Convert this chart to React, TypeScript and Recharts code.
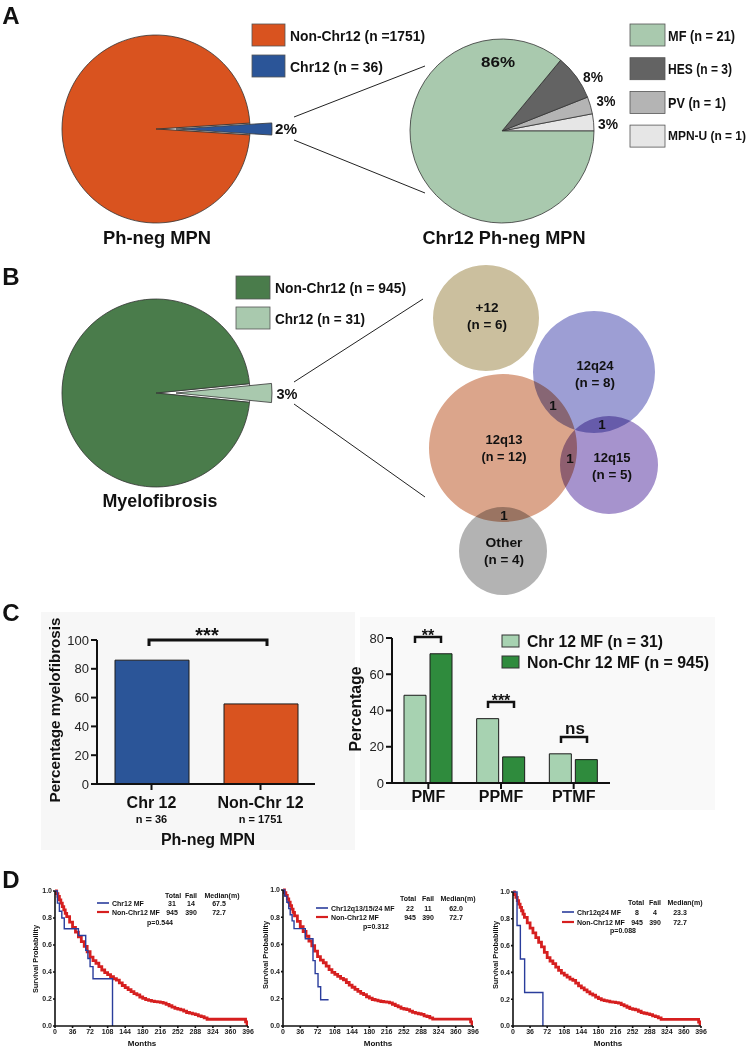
import React from 'react';
import { PieChart, Pie, Cell, BarChart, Bar, XAxis, YAxis, LineChart, Line } from 'recharts';

// ---------- Panel A: Ph-neg MPN ----------
const mpnGroups = ['Chr12', 'Non-Chr12'];
const mpnCounts = [36, 1751];
const subtypeNames = ['MPN-U', 'PV', 'HES', 'MF'];
const subtypeCounts = [1, 1, 3, 21];
const subtypePercents = [3, 3, 8, 86];

// ---------- Panel B: myelofibrosis ----------
const mfGroups = ['Chr12', 'Non-Chr12'];
const mfCounts = [31, 945];
const vennNames = ['+12', '12q24', '12q13', '12q15', 'Other'];
const vennCounts = [6, 8, 12, 5, 4];
const vennOverlapCounts = [1, 1, 1, 1];

// ---------- Panel C ----------
const phCategories = ['Chr 12', 'Non-Chr 12'];
const phN = [36, 1751];
const pctMyelofibrosis = [86, 55.6];
const mfTypes = ['PMF', 'PPMF', 'PTMF'];
const chr12MfPct = [48.4, 35.5, 16.1];
const nonChr12MfPct = [71.3, 14.4, 12.9];
const mfSignif = ['**', '***', 'ns'];

// ---------- Panel D ----------
const monthTicks = [0, 36, 72, 108, 144, 180, 216, 252, 288, 324, 360, 396];
const survTicks = [0, 0.2, 0.4, 0.6, 0.8, 1.0];
const nonChr12Months = [0, 3, 6, 9, 12, 15, 18, 21, 24, 30, 36, 42, 48, 54, 60, 66, 72, 78, 84, 90, 96, 102, 108, 114, 120, 126, 132, 138, 144, 150, 156, 162, 168, 174, 180, 186, 192, 198, 204, 210, 216, 222, 228, 234, 240, 246, 252, 258, 264, 270, 276, 282, 288, 294, 300, 306, 312, 388, 391, 394, 396];
const nonChr12Surv = [1, 0.98, 0.96, 0.935, 0.91, 0.885, 0.86, 0.835, 0.81, 0.77, 0.73, 0.695, 0.66, 0.625, 0.59, 0.55, 0.51, 0.485, 0.465, 0.44, 0.415, 0.395, 0.38, 0.365, 0.35, 0.34, 0.32, 0.3, 0.285, 0.27, 0.255, 0.24, 0.23, 0.215, 0.205, 0.195, 0.19, 0.185, 0.18, 0.178, 0.175, 0.17, 0.16, 0.15, 0.14, 0.13, 0.125, 0.12, 0.11, 0.1, 0.095, 0.09, 0.085, 0.075, 0.07, 0.06, 0.05, 0.05, 0.03, 0.015, 0];
const chr12Months = [0, 5, 9, 14, 19, 48, 63, 67.5, 72, 78, 118];
const chr12Surv = [1, 0.91, 0.85, 0.8, 0.72, 0.67, 0.56, 0.5, 0.44, 0.35, 0];
const q131524Months = [0, 3.5, 8, 12, 15, 19, 23, 46.5, 62.5, 67, 73, 78.5, 95];
const q131524Surv = [1, 0.955, 0.91, 0.864, 0.818, 0.773, 0.716, 0.642, 0.481, 0.385, 0.289, 0.193, 0.193];
const q24Months = [0, 8.5, 15.5, 24.5, 63];
const q24Surv = [1, 0.75, 0.5, 0.25, 0];
const kmGroups = ['Chr12 MF', 'Chr12q13/15/24 MF', 'Chr12q24 MF'];
const kmTotal = [31, 22, 8];
const kmFail = [14, 11, 4];
const kmMedian = ['67.5', '62.0', '23.3'];
const kmP = ['0.544', '0.312', '0.088'];
const refGroup = 'Non-Chr12 MF';
const refTotal = 945;
const refFail = 390;
const refMedian = '72.7';

const SANS = "'Liberation Sans', Arial, Helvetica, sans-serif";
const NARROW = "'Liberation Sans Narrow', 'Arial Narrow', 'Liberation Sans', Arial, sans-serif";

const ORANGE = '#d9531f';
const BLUE = '#2b5598';
const DARK_GREEN = '#4a7c4b';
const LIGHT_GREEN = '#a9c9ae';
const BAR_LIGHT = '#a7d2b1';
const BAR_DARK = '#2f8b3d';

const toRows = (t: number[], s: number[]) => t.map((m, i) => ({ t: m, s: s[i] }));
const mpnData = mpnGroups.map((g, i) => ({ name: g, value: mpnCounts[i] }));
const mfData = mfGroups.map((g, i) => ({ name: g, value: mfCounts[i] }));
const subtypeData = subtypeNames.map((g, i) => ({ name: g, value: subtypePercents[i] }));
const phData = phCategories.map((c, i) => ({ name: c, value: pctMyelofibrosis[i] }));
const mfTypeData = mfTypes.map((c, i) => ({ name: c, chr12: chr12MfPct[i], nonChr12: nonChr12MfPct[i] }));

// half-angle of the small slice so it sits centred on 3 o'clock
const mpnHalf = (180 * mpnCounts[0]) / (mpnCounts[0] + mpnCounts[1]);
const mfHalf = (180 * mfCounts[0]) / (mfCounts[0] + mfCounts[1]);

const subtypeColors = ['#e6e6e6', '#b4b4b4', '#636363', LIGHT_GREEN];

// layout of the overlapping circles (position only)
const vennLayout = [
  { cx: 486, cy: 318, r: 53, color: '#cbbf9e', ly: 315 },
  { cx: 594, cy: 372, r: 61, color: '#9d9ed4', ly: 373 },
  { cx: 503, cy: 448, r: 74, color: '#dba58b', ly: 447 },
  { cx: 609, cy: 465, r: 49, color: '#a693cd', ly: 465, lx: 612 },
  { cx: 503, cy: 551, r: 44, color: '#b3b3b3', ly: 550 },
];
const overlapPos = [[553, 405], [602, 424], [570, 458], [504, 515]];

interface TxtProps {
  x: number;
  y: number;
  children: React.ReactNode;
  size?: number;
  w?: number;
  anchor?: 'start' | 'middle' | 'end';
  font?: string;
  weight?: string | number;
  rotate?: number;
  base?: boolean;
}

function Txt({ x, y, children, size = 14, w, anchor = 'middle', font = NARROW, weight = 'bold', rotate, base }: TxtProps) {
  return (
    <text
      x={x}
      y={y}
      fontSize={size}
      fontFamily={font}
      fontWeight={weight}
      textAnchor={anchor}
      dominantBaseline={base ? undefined : 'central'}
      fill="#111"
      textLength={w}
      lengthAdjust={w ? 'spacingAndGlyphs' : undefined}
      transform={rotate ? `rotate(${rotate} ${x} ${y})` : undefined}
    >
      {children}
    </text>
  );
}

function Bracket({ x1, x2, y, h = 6, sw = 2.5 }: { x1: number; x2: number; y: number; h?: number; sw?: number }) {
  return <path d={`M${x1},${y + h} V${y} H${x2} V${y + h}`} fill="none" stroke="#111" strokeWidth={sw} />;
}

const PhTick = (props: any) => {
  const { x, y, payload, index } = props;
  return (
    <g transform={`translate(${x},${y})`}>
      <text y={10} textAnchor="middle" dominantBaseline="central" fontSize={16} fontWeight="bold" fontFamily={SANS} fill="#111">
        {payload.value}
      </text>
      <text y={27} textAnchor="middle" dominantBaseline="central" fontSize={11} fontWeight="bold" fontFamily={NARROW} fill="#111">
        n = {phN[index]}
      </text>
    </g>
  );
};

const barAxis = { stroke: '#111', strokeWidth: 2 };
const barTick = { fontSize: 13, fill: '#222', fontFamily: SANS };
const kmAxis = { stroke: '#111', strokeWidth: 1.6 };
const kmTick = { fontSize: 7, fontWeight: 'bold', fill: '#222', fontFamily: SANS };

interface KmCfg {
  left: number;
  axisW: number;
  width: number;
  top: number;
  plotH: number;
  months: number[];
  surv: number[];
  lineX: number;
  headY: number;
  headCols: number[];
  valCols: number[];
  rowY: number[];
  pX: number;
  pY: number;
  spX: number;
  spY: number;
  monthsX: number;
}

const kmPanels: KmCfg[] = [
  { left: 0, axisW: 55, width: 256, top: 11, plotH: 135, months: chr12Months, surv: chr12Surv, lineX: 97, headY: 895, headCols: [173, 191, 222], valCols: [172, 191, 219], rowY: [903, 912], pX: 160, pY: 922, spX: 35, spY: 959, monthsX: 142 },
  { left: 250, axisW: 33, width: 231, top: 10, plotH: 136, months: q131524Months, surv: q131524Surv, lineX: 316, headY: 898, headCols: [408, 428, 458], valCols: [410, 428, 456], rowY: [908, 917], pX: 376, pY: 926, spX: 265, spY: 955, monthsX: 378 },
  { left: 480, axisW: 33, width: 229, top: 12, plotH: 134, months: q24Months, surv: q24Surv, lineX: 562, headY: 902, headCols: [636, 655, 685], valCols: [637, 655, 680], rowY: [912, 922], pX: 623, pY: 930, spX: 495, spY: 955, monthsX: 608 },
];

function SurvivalPlot({ cfg }: { cfg: KmCfg }) {
  return (
    <div style={{ position: 'absolute', left: cfg.left, top: 880 }}>
      <LineChart width={cfg.width} height={cfg.top + cfg.plotH + 23} margin={{ top: cfg.top, right: 8, bottom: 0, left: 0 }}>
        <XAxis type="number" dataKey="t" domain={[0, 396]} ticks={monthTicks} interval={0} height={23} tickSize={2} tickMargin={1} axisLine={kmAxis} tickLine={kmAxis} tick={kmTick} allowDataOverflow />
        <YAxis type="number" domain={[0, 1]} ticks={survTicks} width={cfg.axisW} tickSize={2} tickMargin={1} tickFormatter={(v: number) => v.toFixed(1)} axisLine={kmAxis} tickLine={kmAxis} tick={kmTick} />
        <Line data={toRows(nonChr12Months, nonChr12Surv)} dataKey="s" type="stepAfter" stroke="#d61f1f" strokeWidth={2.8} dot={false} isAnimationActive={false} />
        <Line data={toRows(cfg.months, cfg.surv)} dataKey="s" type="stepAfter" stroke="#2a3d9c" strokeWidth={1.4} dot={false} isAnimationActive={false} />
      </LineChart>
    </div>
  );
}

export default function App() {
  return (
    <div style={{ position: 'absolute', left: 0, top: 0, width: 753, height: 1049, background: '#fff', overflow: 'hidden' }}>
      <style>{`.venn { mix-blend-mode: multiply; }`}</style>

      {/* faint panel C backgrounds */}
      <svg width={753} height={1049} style={{ position: 'absolute', left: 0, top: 0 }}>
        <rect x={41} y={612} width={314} height={238} fill="#f7f7f7" />
        <rect x={360} y={617} width={355} height={193} fill="#f9f9f9" />
      </svg>

      {/* Panels A and B: pies and circles */}
      <div style={{ position: 'absolute', left: 0, top: 0 }}>
        <PieChart width={753} height={600} margin={{ top: 0, right: 0, bottom: 0, left: 0 }}>
          <Pie data={mpnData} dataKey="value" cx={156} cy={129} outerRadius={94} startAngle={-mpnHalf} endAngle={360 - mpnHalf} isAnimationActive={false}>
            <Cell fill="#ffffff" stroke="#333" strokeWidth={0.8} />
            <Cell fill={ORANGE} stroke="#333" strokeWidth={0.8} />
          </Pie>
          <Pie data={mpnData} dataKey="value" cx={176} cy={129} outerRadius={96} startAngle={-mpnHalf} endAngle={360 - mpnHalf} isAnimationActive={false}>
            <Cell fill={BLUE} stroke="#333" strokeWidth={0.8} />
            <Cell fill="none" stroke="none" />
          </Pie>
          <Pie data={subtypeData} dataKey="value" cx={502} cy={131} outerRadius={92} startAngle={0} endAngle={360} isAnimationActive={false}>
            {subtypeData.map((d, i) => (
              <Cell key={d.name} fill={subtypeColors[i]} stroke="#333" strokeWidth={0.8} />
            ))}
          </Pie>

          <Pie data={mfData} dataKey="value" cx={156} cy={393} outerRadius={94} startAngle={-mfHalf} endAngle={360 - mfHalf} isAnimationActive={false}>
            <Cell fill="#ffffff" stroke="#333" strokeWidth={0.8} />
            <Cell fill={DARK_GREEN} stroke="#333" strokeWidth={0.8} />
          </Pie>
          <Pie data={mfData} dataKey="value" cx={176} cy={393} outerRadius={96} startAngle={-mfHalf} endAngle={360 - mfHalf} isAnimationActive={false}>
            <Cell fill={LIGHT_GREEN} stroke="#333" strokeWidth={0.8} />
            <Cell fill="none" stroke="none" />
          </Pie>

          {vennNames.map((name, i) => (
            <Pie
              key={name}
              className="venn"
              data={[{ name, value: vennCounts[i] }]}
              dataKey="value"
              cx={vennLayout[i].cx}
              cy={vennLayout[i].cy}
              outerRadius={vennLayout[i].r}
              isAnimationActive={false}
            >
              <Cell fill={vennLayout[i].color} stroke="none" />
            </Pie>
          ))}
        </PieChart>
      </div>

      {/* Panel C left */}
      <div style={{ position: 'absolute', left: 0, top: 600 }}>
        <BarChart width={330} height={244} data={phData} margin={{ top: 40, right: 15, bottom: 0, left: 0 }} barSize={74}>
          <XAxis dataKey="name" height={60} interval={0} tickSize={6} axisLine={barAxis} tickLine={barAxis} tick={<PhTick />} />
          <YAxis width={97} domain={[0, 100]} ticks={[0, 20, 40, 60, 80, 100]} tickSize={6} axisLine={barAxis} tickLine={barAxis} tick={barTick} />
          <Bar dataKey="value" stroke="#1a1a1a" strokeWidth={1} isAnimationActive={false}>
            <Cell fill={BLUE} />
            <Cell fill={ORANGE} />
          </Bar>
        </BarChart>
      </div>

      {/* Panel C right */}
      <div style={{ position: 'absolute', left: 340, top: 600 }}>
        <BarChart width={280} height={223} data={mfTypeData} margin={{ top: 38, right: 10, bottom: 0, left: 0 }} barSize={22} barGap={4}>
          <XAxis dataKey="name" height={40} interval={0} tickSize={6} axisLine={barAxis} tickLine={barAxis} tick={{ fontSize: 16, fontWeight: 'bold', fill: '#111', fontFamily: SANS }} />
          <YAxis width={52} domain={[0, 80]} ticks={[0, 20, 40, 60, 80]} tickSize={6} axisLine={barAxis} tickLine={barAxis} tick={barTick} />
          <Bar dataKey="chr12" fill={BAR_LIGHT} stroke="#1a1a1a" strokeWidth={1} isAnimationActive={false} />
          <Bar dataKey="nonChr12" fill={BAR_DARK} stroke="#1a1a1a" strokeWidth={1} isAnimationActive={false} />
        </BarChart>
      </div>

      {/* Panel D */}
      {kmPanels.map((cfg, i) => (
        <SurvivalPlot key={i} cfg={cfg} />
      ))}

      {/* Text, legends and annotations */}
      <svg width={753} height={1049} style={{ position: 'absolute', left: 0, top: 0, pointerEvents: 'none' }}>
        <Txt x={11} y={15} size={24} font={SANS}>A</Txt>
        <Txt x={11} y={276} size={24} font={SANS}>B</Txt>
        <Txt x={11} y={612} size={24} font={SANS}>C</Txt>
        <Txt x={11} y={879} size={24} font={SANS}>D</Txt>

        {/* A legends */}
        <rect x={252} y={24} width={33} height={22} fill={ORANGE} stroke="#555" strokeWidth={0.8} />
        <rect x={252} y={55} width={33} height={22} fill={BLUE} stroke="#555" strokeWidth={0.8} />
        <Txt x={290} y={35} size={15} w={135} anchor="start">{`${mpnGroups[1]} (n =${mpnCounts[1]})`}</Txt>
        <Txt x={290} y={66} size={15} w={93} anchor="start">{`${mpnGroups[0]} (n = ${mpnCounts[0]})`}</Txt>
        {[3, 2, 1, 0].map((k, j) => (
          <g key={k}>
            <rect x={630} y={24 + j * 33.7} width={35} height={22} fill={subtypeColors[k]} stroke="#555" strokeWidth={0.8} />
            <Txt x={668} y={35 + j * 33.7} size={j === 3 ? 12 : 15} w={[67, 64, 58, 78][j]} anchor="start">{`${subtypeNames[k]} (n = ${subtypeCounts[k]})`}</Txt>
          </g>
        ))}
        <Txt x={498} y={61} size={15} w={34}>{`${subtypePercents[3]}%`}</Txt>
        <Txt x={593} y={76} size={15} w={20}>{`${subtypePercents[2]}%`}</Txt>
        <Txt x={606} y={100} size={15} w={19}>{`${subtypePercents[1]}%`}</Txt>
        <Txt x={608} y={123} size={15} w={20}>{`${subtypePercents[0]}%`}</Txt>
        <Txt x={286} y={128} size={15} w={22}>{`${Math.round((100 * mpnCounts[0]) / (mpnCounts[0] + mpnCounts[1]))}%`}</Txt>
        <line x1={294} y1={117} x2={425} y2={66} stroke="#222" strokeWidth={1} />
        <line x1={294} y1={140} x2={425} y2={193} stroke="#222" strokeWidth={1} />
        <Txt x={157} y={237} size={19} w={108}>Ph-neg MPN</Txt>
        <Txt x={504} y={237} size={19} w={163}>Chr12 Ph-neg MPN</Txt>

        {/* B legends */}
        <rect x={236} y={276} width={34} height={23} fill={DARK_GREEN} stroke="#555" strokeWidth={0.8} />
        <rect x={236} y={307} width={34} height={22} fill={LIGHT_GREEN} stroke="#555" strokeWidth={0.8} />
        <Txt x={275} y={287} size={15} w={131} anchor="start">{`${mfGroups[1]} (n = ${mfCounts[1]})`}</Txt>
        <Txt x={275} y={318} size={15} w={90} anchor="start">{`${mfGroups[0]} (n = ${mfCounts[0]})`}</Txt>
        <Txt x={287} y={393} size={15} w={21}>{`${Math.round((100 * mfCounts[0]) / (mfCounts[0] + mfCounts[1]))}%`}</Txt>
        <line x1={294} y1={382} x2={423} y2={299} stroke="#222" strokeWidth={1} />
        <line x1={294} y1={404} x2={425} y2={497} stroke="#222" strokeWidth={1} />
        <Txt x={160} y={500} size={19} w={115}>Myelofibrosis</Txt>
        {vennNames.map((name, i) => {
          const L = vennLayout[i];
          const lx = L.lx ?? L.cx + 1;
          return (
            <g key={name}>
              <Txt x={lx} y={L.ly - 8} size={13.5} w={name === '+12' ? 23 : 37}>{name}</Txt>
              <Txt x={lx} y={L.ly + 9} size={13.5} w={vennCounts[i] >= 10 ? 45 : 40}>{`(n = ${vennCounts[i]})`}</Txt>
            </g>
          );
        })}
        {overlapPos.map(([x, y], i) => (
          <Txt key={i} x={x} y={y} size={13.5}>{vennOverlapCounts[i]}</Txt>
        ))}

        {/* C left annotations */}
        <Txt x={54} y={710} size={15} w={185} font={SANS} rotate={-90}>Percentage myelofibrosis</Txt>
        <Bracket x1={149} x2={267} y={640} h={6} sw={3} />
        <Txt x={207} y={642} size={20} font={SANS} base>***</Txt>
        <Txt x={208} y={839} size={16} font={SANS}>Ph-neg MPN</Txt>

        {/* C right annotations */}
        <Txt x={355} y={709} size={16} w={85} font={SANS} rotate={-90}>Percentage</Txt>
        <Bracket x1={415} x2={441} y={637} />
        <Txt x={428} y={641} size={16} font={SANS} base>{mfSignif[0]}</Txt>
        <Bracket x1={488} x2={514} y={702} />
        <Txt x={501} y={706} size={16} font={SANS} base>{mfSignif[1]}</Txt>
        <Bracket x1={561} x2={587} y={737} />
        <Txt x={575} y={734} size={17} font={SANS} base>{mfSignif[2]}</Txt>
        <rect x={502} y={635} width={17} height={12} fill={BAR_LIGHT} stroke="#333" strokeWidth={1} />
        <rect x={502} y={656} width={17} height={12} fill={BAR_DARK} stroke="#333" strokeWidth={1} />
        <Txt x={527} y={641} size={16} w={136} font={SANS} anchor="start">{`Chr 12 MF (n = ${mfCounts[0]})`}</Txt>
        <Txt x={527} y={662} size={16} w={182} font={SANS} anchor="start">{`Non-Chr 12 MF (n = ${mfCounts[1]})`}</Txt>

        {/* D legends */}
        {kmPanels.map((c, i) => (
          <g key={i}>
            <Txt x={c.spX} y={c.spY} size={7} w={68} font={SANS} rotate={-90}>Survival Probability</Txt>
            <Txt x={c.monthsX} y={1043} size={8} font={SANS}>Months</Txt>
            <Txt x={c.headCols[0]} y={c.headY} size={7} font={SANS}>Total</Txt>
            <Txt x={c.headCols[1]} y={c.headY} size={7} font={SANS}>Fail</Txt>
            <Txt x={c.headCols[2]} y={c.headY} size={7} font={SANS}>Median(m)</Txt>
            <line x1={c.lineX} x2={c.lineX + 12} y1={c.rowY[0]} y2={c.rowY[0]} stroke="#2a3d9c" strokeWidth={1.6} />
            <line x1={c.lineX} x2={c.lineX + 12} y1={c.rowY[1]} y2={c.rowY[1]} stroke="#d61f1f" strokeWidth={2.2} />
            <Txt x={c.lineX + 15} y={c.rowY[0]} size={7} font={SANS} anchor="start">{kmGroups[i]}</Txt>
            <Txt x={c.lineX + 15} y={c.rowY[1]} size={7} font={SANS} anchor="start">{refGroup}</Txt>
            <Txt x={c.valCols[0]} y={c.rowY[0]} size={7} font={SANS}>{kmTotal[i]}</Txt>
            <Txt x={c.valCols[1]} y={c.rowY[0]} size={7} font={SANS}>{kmFail[i]}</Txt>
            <Txt x={c.valCols[2]} y={c.rowY[0]} size={7} font={SANS}>{kmMedian[i]}</Txt>
            <Txt x={c.valCols[0]} y={c.rowY[1]} size={7} font={SANS}>{refTotal}</Txt>
            <Txt x={c.valCols[1]} y={c.rowY[1]} size={7} font={SANS}>{refFail}</Txt>
            <Txt x={c.valCols[2]} y={c.rowY[1]} size={7} font={SANS}>{refMedian}</Txt>
            <Txt x={c.pX} y={c.pY} size={7} font={SANS}>{`p=${kmP[i]}`}</Txt>
          </g>
        ))}
      </svg>
    </div>
  );
}
